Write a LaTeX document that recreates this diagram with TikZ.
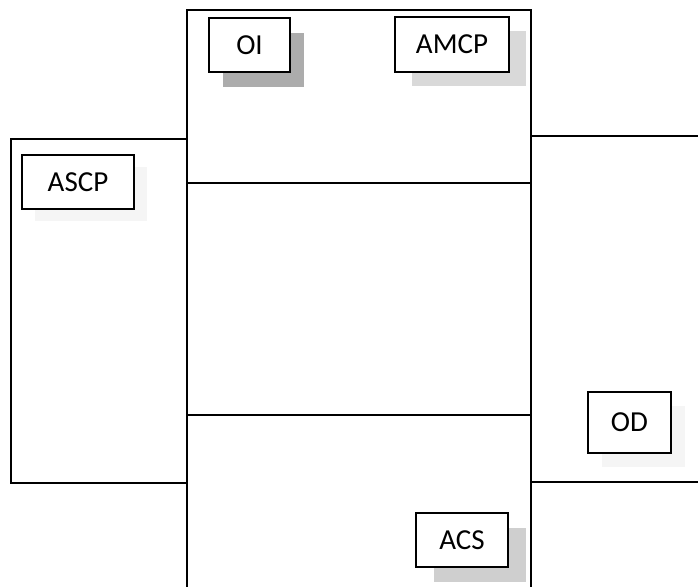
\documentclass[tikz,border=0pt]{standalone}
\usepackage{fontspec}
\setmainfont{Carlito}
\usetikzlibrary{shadows}
\begin{document}
\begin{tikzpicture}[x=1pt,y=-1pt,
  frame/.style={line width=1.6pt, line cap=rect},
  lbl/.style={draw, line width=1.5pt, fill=white, inner sep=0pt,
    font=\fontsize{29}{32}\selectfont},
  shad/.style n args={3}{drop shadow={shadow xshift=#1pt, shadow yshift=-#2pt,
    fill=#3, opacity=1}}]
\useasboundingbox (0,0) rectangle (698,586);
% frames
\draw[frame] (187,586) -- (187,10) -- (531,10) -- (531,586);
\draw[frame] (187,183) -- (531,183);
\draw[frame] (187,415) -- (531,415);
\draw[frame] (187,139) -- (11,139) -- (11,483) -- (187,483);
\draw[frame] (531,136) -- (698,136);
\draw[frame] (531,482) -- (698,482);
% labelled boxes
\node[lbl, minimum width=81pt, minimum height=54pt, shad={14}{15}{gray!65}] (oi) at (249.5,45) {OI};
\node[lbl, minimum width=114pt, minimum height=55pt, shad={17}{14}{gray!30}] (amcp) at (452,44.5) {AMCP};
\node[lbl, minimum width=112pt, minimum height=54pt, shad={13}{12}{gray!8}] (ascp) at (78,182) {ASCP};
\node[lbl, minimum width=83pt, minimum height=61pt, shad={14}{14}{gray!8}] (od) at (629.5,422.5) {OD};
\node[lbl, minimum width=92pt, minimum height=54pt, shad={18}{15}{gray!38}] (acs) at (462,540) {ACS};
\end{tikzpicture}
\end{document}
